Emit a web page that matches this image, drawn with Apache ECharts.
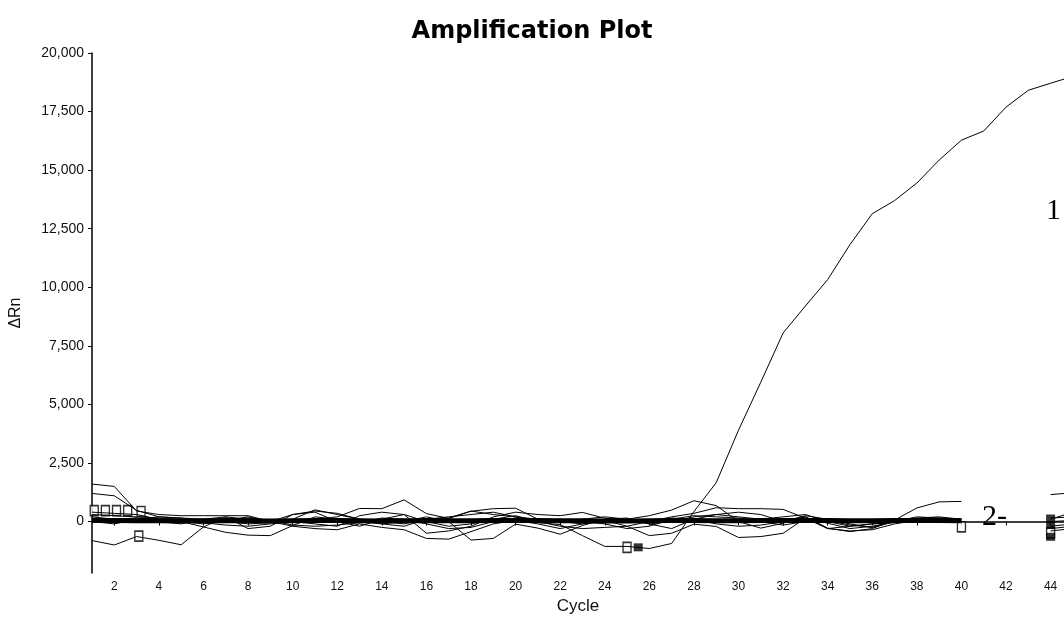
<!DOCTYPE html>
<html>
<head>
<meta charset="utf-8">
<script src="https://cdn.jsdelivr.net/npm/echarts@6/dist/echarts.min.js"></script>
<style>
  html, body { margin: 0; padding: 0; background: #fff; }
  #main { width: 1064px; height: 620px; }
</style>
</head>
<body>
<div id="main"></div>
<script>
// cycles 1..45
let cycles = [];
for (let i = 1; i <= 45; i++) cycles.push(i);

let xTicks = [2, 4, 6, 8, 10, 12, 14, 16, 18, 20, 22, 24, 26, 28, 30, 32, 34, 36, 38, 40, 42, 44];
let yTicks = [0, 2500, 5000, 7500, 10000, 12500, 15000, 17500, 20000];

// sample 1: the amplified well
let sample1 = [100, 50, 150, 100, 0, -100, 50, 200, 0, 300, 450, 350, 100, -100, -200, 100, 200, 300, 400, 200, -50, -130, -600, -1060, -1060, -1150, -935, 425, 1660, 3900, 5950, 8050, 9200, 10330, 11820, 13140, 13700, 14450, 15430, 16280, 16670, 17690, 18410, 18710, 19000];

// negative / baseline wells (hidden between 41 and 43 by the "2-" label)
let base1 = [1600, 1500, 450, 300, 250, 250, 250, 250, 0, 100, 500, 300, 100, 0, -100, 100, 150, 450, 300, 200, 100, 0, -100, 0, 100, 250, 490, 890, 680, 0, -280, -70, 210, -280, -430, -300, 60, 580, 840, 860, null, null, null, 1150, 1230];
let base2 = [1200, 1100, 480, 200, 150, 100, 0, -100, -50, 0, 100, 200, 560, 550, 925, 340, 135, 440, 550, 570, 100, 0, 100, 200, 100, 0, 200, 350, 590, 550, 550, 520, 140, -70, -300, -200, 0, 100, 150, 100, null, null, null, 100, 400];
let base3 = [-810, -1000, -640, -800, -990, -230, 200, 100, 0, -200, -300, -350, -100, -250, -350, -720, -750, -430, -100, 50, -100, -300, -100, 50, -200, -600, -500, -110, -210, -680, -640, -500, 140, -300, -400, -350, -100, 50, 0, 0, null, null, null, -200, -100];
let base4 = [400, 350, 300, 100, 0, -230, -460, -580, -600, -170, 200, 100, 0, -100, 0, 200, 0, -790, -720, -110, -280, -540, -170, 100, 150, -100, 0, 200, 300, 200, 100, 200, 300, 0, -200, -100, 0, 200, 150, 100, null, null, null, 0, 50];
let base5 = [200, 100, 150, 0, -100, 100, 200, -300, -200, 300, 400, 0, -200, 100, 300, -500, -400, -200, 200, 400, 300, 250, 390, 140, 70, -100, -300, 100, 300, 400, 300, 0, 200, -300, -200, -100, -50, 0, 50, 0, null, null, null, -300, -200];
let base6 = [300, 250, 200, 150, 100, -50, -150, -200, -100, 0, -100, -200, 250, 400, 300, 0, -200, -100, 100, 250, 0, -200, -300, -250, -200, 0, 150, 100, -100, -200, -150, 0, 250, 100, -100, -250, 0, 100, 100, 50, null, null, null, 150, 200];
let base7 = [0, -100, 100, 200, 150, 0, 100, 150, 50, -150, -200, -150, -50, 150, 100, -100, -300, -250, 0, 150, 50, 100, 0, -100, -300, -200, 100, 250, 200, 150, 0, -150, 0, 50, -150, -250, 0, 150, 200, 100, null, null, null, -400, -300];
let thick = [40, 40, 30, 30, 20, 30, 40, 30, 20, 30, 40, 40, 30, 20, 30, 40, 30, 30, 40, 50, 40, 30, 30, 20, 20, 30, 40, 40, 30, 30, 40, 40, 50, 40, 30, 30, 40, 50, 40, 30];

// marker glyphs drawn by the instrument software
let openMarks = [[1.1, 470], [1.6, 470], [2.1, 470], [2.6, 470], [3.2, 430], [3.1, -620], [25, -1100], [40, -230], [44, -480]];
let filledMarks = [[25.5, -1100], [44, 130], [44, -150], [44, -650]];

function pairs(arr) {
  return arr.map((v, i) => [cycles[i], v]);
}

let lineStyleThin = { color: '#000', width: 1 };
let baseSeries = [base1, base2, base3, base4, base5, base6, base7].map(function (d) {
  return {
    type: 'line',
    data: pairs(d),
    symbol: 'none',
    lineStyle: lineStyleThin,
    connectNulls: false,
    silent: true
  };
});

let myChart = echarts.init(document.getElementById('main'));

let option = {
  animation: false,
  backgroundColor: '#fff',
  title: {
    text: 'Amplification Plot',
    left: 'center',
    top: 15,
    textStyle: { fontFamily: 'DejaVu Sans', fontWeight: 'bold', fontSize: 24, color: '#000' }
  },
  grid: { left: 92, right: 0, top: 53, bottom: 43 },
  xAxis: {
    type: 'value',
    min: 1,
    max: 44.6,
    name: 'Cycle',
    nameLocation: 'middle',
    nameGap: 24,
    nameTextStyle: { fontFamily: 'Liberation Sans', fontSize: 17, color: '#111' },
    axisLine: { lineStyle: { color: '#000', width: 1.5 } },
    axisTick: { length: 4, customValues: xTicks, lineStyle: { color: '#000' } },
    axisLabel: {
      customValues: xTicks,
      fontFamily: 'Liberation Sans', fontSize: 12, color: '#111', margin: 8
    },
    splitLine: { show: false }
  },
  yAxis: {
    type: 'value',
    min: -2200,
    max: 20000,
    name: 'ΔRn',
    nameLocation: 'middle',
    nameGap: 68,
    nameRotate: 90,
    nameTextStyle: { fontFamily: 'Liberation Sans', fontSize: 16, color: '#111' },
    axisLine: { show: true, lineStyle: { color: '#000', width: 1.5 } },
    axisTick: { show: true, length: 4, customValues: yTicks, lineStyle: { color: '#000' } },
    axisLabel: {
      customValues: yTicks,
      fontFamily: 'Liberation Sans', fontSize: 14, color: '#111', margin: 8,
      formatter: function (v) { return v.toLocaleString('en-US'); }
    },
    splitLine: { show: false }
  },
  graphic: [
    {
      type: 'text', left: 1046, top: 196,
      style: { text: '1', font: '30px "Liberation Serif"', fill: '#000' }
    },
    {
      type: 'text', left: 982, top: 502,
      style: { text: '2-', font: '30px "Liberation Serif"', fill: '#000' }
    }
  ],
  series: [
    ...baseSeries,
    {
      type: 'line',
      data: pairs(thick),
      symbol: 'none',
      lineStyle: { color: '#000', width: 5 },
      silent: true
    },
    {
      type: 'line',
      data: pairs(sample1),
      symbol: 'none',
      lineStyle: lineStyleThin,
      silent: true
    },
    {
      type: 'scatter',
      data: openMarks,
      symbol: 'rect',
      symbolSize: [8, 10],
      itemStyle: { color: '#fff', borderColor: '#000', borderWidth: 1.5 },
      silent: true
    },
    {
      type: 'scatter',
      data: filledMarks,
      symbol: 'rect',
      symbolSize: [9, 8],
      itemStyle: { color: '#000' },
      silent: true
    }
  ]
};

myChart.setOption(option);
</script>
</body>
</html>
